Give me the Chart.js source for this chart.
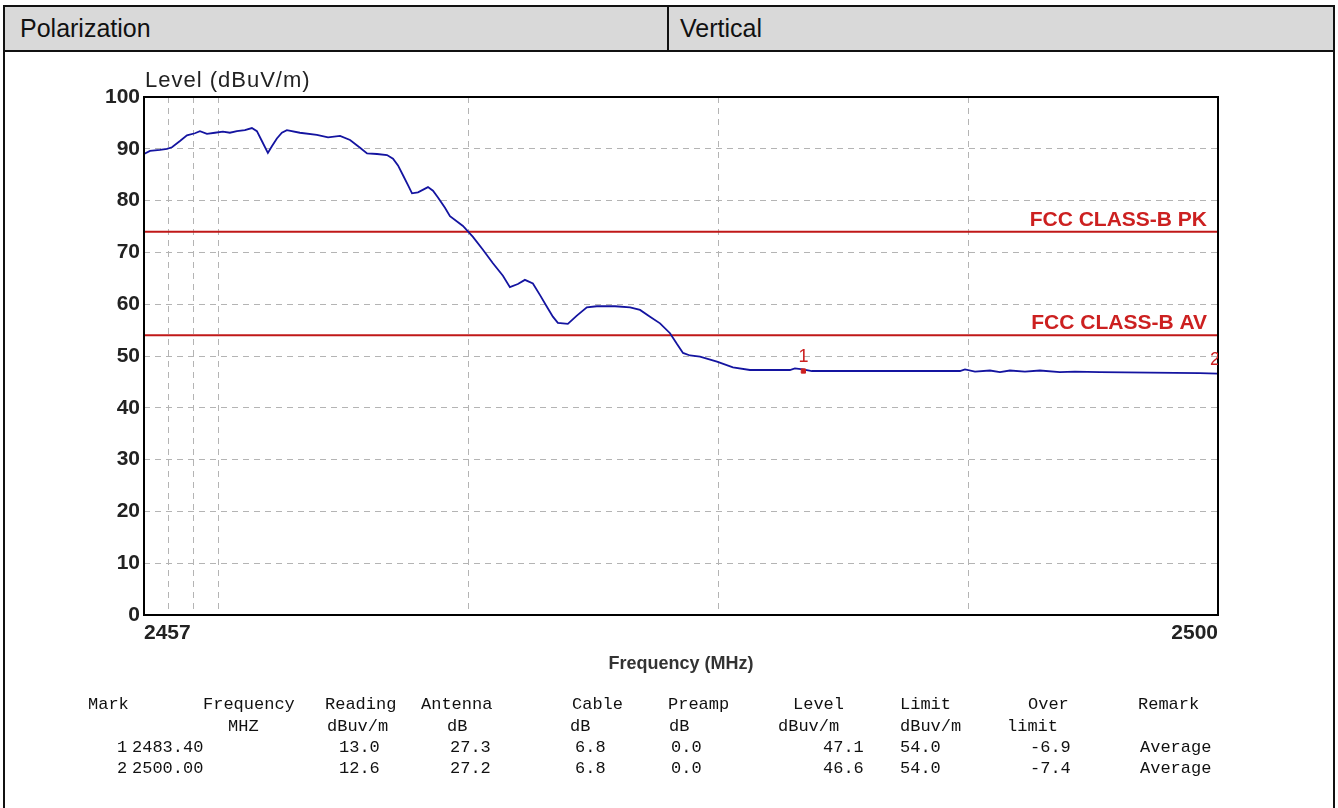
<!DOCTYPE html>
<html lang="en">
<head>
  <meta charset="UTF-8">
  <title>Radiated emission - Vertical</title>
  <script src="https://cdn.jsdelivr.net/npm/chart.js@4.4.0/dist/chart.umd.min.js"></script>
  <style>
    html, body { margin: 0; padding: 0; width: 1338px; height: 808px; background: #fff; overflow: hidden; }
    .line { position: absolute; background: #111; }
    #headRow { position: absolute; left: 3px; top: 5px; width: 1332px; height: 45px; background: #d9d9d9; }
    .headText { position: absolute; top: 14px; font: 25px "Liberation Sans", Arial, sans-serif; color: #111; }
    #chart { position: absolute; left: 0; top: 0; }
    .cell { position: absolute; font: 17px "Liberation Mono", "Courier New", monospace; color: #111; white-space: pre; line-height: 18px; }
  </style>
</head>
<body>
  <div id="headRow"></div>
  <div class="line" style="left:3px;top:5px;width:1332px;height:2px"></div>
  <div class="line" style="left:3px;top:50px;width:1332px;height:2px"></div>
  <div class="line" style="left:3px;top:5px;width:2px;height:810px"></div>
  <div class="line" style="left:1333px;top:5px;width:2px;height:810px"></div>
  <div class="line" style="left:667px;top:5px;width:2px;height:46px"></div>
  <div class="headText" style="left:20px">Polarization</div>
  <div class="headText" style="left:680px">Vertical</div>
  <canvas id="chart" width="1338" height="808"></canvas>
  <div id="table"></div>

  <script>
// measured trace (MHz / dBuV/m)
var freqMHz = [2457.00, 2457.24, 2457.64, 2457.92, 2458.12, 2458.44, 2458.72, 2459.04, 2459.24, 2459.52,
  2459.84, 2460.16, 2460.44, 2460.72, 2461.04, 2461.32, 2461.52, 2461.72, 2461.96, 2462.12,
  2462.32, 2462.52, 2462.72, 2463.24, 2463.92, 2464.37, 2464.85, 2465.25, 2465.65, 2465.93,
  2466.33, 2466.73, 2466.97, 2467.17, 2467.37, 2467.57, 2467.73, 2467.97, 2468.37, 2468.57,
  2468.77, 2469.05, 2469.25, 2469.77, 2470.17, 2470.57, 2470.97, 2471.37, 2471.65, 2471.97,
  2472.25, 2472.57, 2472.85, 2473.13, 2473.37, 2473.57, 2473.97, 2474.33, 2474.73, 2475.13,
  2475.86, 2476.46, 2476.86, 2477.26, 2477.66, 2478.06, 2478.34, 2478.58, 2478.86, 2479.26,
  2479.94, 2480.58, 2481.26, 2482.86, 2483.06, 2483.38, 2483.74, 2487.26, 2489.67, 2489.87,
  2490.27, 2490.87, 2491.27, 2491.67, 2492.27, 2492.87, 2493.67, 2494.27, 2495.27, 2497.27,
  2499.27, 2500.00];
var levelDbuv = [89.0, 89.6, 89.8, 90.0, 90.3, 91.5, 92.6, 93.0, 93.4, 92.9,
  93.1, 93.3, 93.1, 93.4, 93.6, 94.0, 93.4, 91.5, 89.2, 90.5,
  92.0, 93.1, 93.6, 93.1, 92.7, 92.2, 92.5, 91.7, 90.2, 89.1,
  89.0, 88.8, 88.1, 86.8, 84.9, 83.0, 81.4, 81.6, 82.6, 81.9,
  80.6, 78.6, 77.0, 75.1, 73.0, 70.5, 67.9, 65.5, 63.3, 63.9,
  64.7, 64.0, 61.8, 59.5, 57.6, 56.4, 56.2, 57.8, 59.4, 59.6,
  59.6, 59.4, 58.9, 57.6, 56.3, 54.4, 52.3, 50.6, 50.1, 49.9,
  48.9, 47.8, 47.3, 47.3, 47.6, 47.4, 47.1, 47.1, 47.1, 47.4,
  47.0, 47.2, 46.9, 47.2, 47.0, 47.2, 46.9, 47.0, 46.9, 46.8,
  46.7, 46.6];

// limits
var limitNames = ["FCC CLASS-B PK", "FCC CLASS-B AV"];
var limitValues = [74, 54];

// axis
var xMin = 2457, xMax = 2500;
var xGridValues = [2457, 2458, 2459, 2460, 2470, 2480, 2490, 2500];
var xTickLabels = ["2457", "2500"];
var yMin = 0, yMax = 100, yStep = 10;

// marker table
var tableHead = ["Mark", "Frequency", "Reading", "Antenna", "Cable", "Preamp", "Level", "Limit", "Over", "Remark"];
var tableUnits = ["", "MHZ", "dBuv/m", "dB", "dB", "dB", "dBuv/m", "dBuv/m", "limit", ""];
var markNo = ["1", "2"];
var markFreq = ["2483.40", "2500.00"];
var markReading = ["13.0", "12.6"];
var markAntenna = ["27.3", "27.2"];
var markCable = ["6.8", "6.8"];
var markPreamp = ["0.0", "0.0"];
var markLevel = ["47.1", "46.6"];
var markLimit = ["54.0", "54.0"];
var markOver = ["-6.9", "-7.4"];
var markRemark = ["Average", "Average"];

var RED = "#cc2020";

/* Frame, labels and marker numbers */
var extrasPlugin = {
  id: "extras",
  afterDraw: function(chart) {
    var ctx = chart.ctx;
    var a = chart.chartArea;
    var xs = chart.scales.x, ys = chart.scales.y;
    ctx.save();
    // plot border
    ctx.strokeStyle = "#000";
    ctx.lineWidth = 2;
    ctx.strokeRect(a.left, a.top, a.right - a.left, a.bottom - a.top);
    // y title
    ctx.fillStyle = "#222";
    ctx.font = "22px 'Liberation Sans', Arial, sans-serif";
    ctx.letterSpacing = "1px";
    ctx.textAlign = "left";
    ctx.textBaseline = "middle";
    ctx.fillText("Level (dBuV/m)", a.left + 1, a.top - 16);
    ctx.letterSpacing = "0px";
    // limit names
    ctx.fillStyle = RED;
    ctx.font = "bold 21px 'Liberation Sans', Arial, sans-serif";
    ctx.textAlign = "right";
    ctx.textBaseline = "alphabetic";
    for (var i = 0; i < limitNames.length; i++) {
      ctx.fillText(limitNames[i], a.right - 11, ys.getPixelForValue(limitValues[i]) - 6);
    }
    // marker numbers
    ctx.beginPath();
    ctx.rect(a.left, a.top, a.right - a.left, a.bottom - a.top);
    ctx.clip();
    ctx.font = "18px 'Liberation Sans', Arial, sans-serif";
    ctx.textAlign = "center";
    for (var j = 0; j < markNo.length; j++) {
      var px = xs.getPixelForValue(parseFloat(markFreq[j]));
      if (j == markNo.length - 1) px -= 3;
      ctx.fillText(markNo[j], px, ys.getPixelForValue(parseFloat(markLevel[j])) - 9);
    }
    ctx.restore();
  }
};

function buildDatasets() {
  var trace = [];
  for (var i = 0; i < freqMHz.length; i++) {
    trace.push({ x: freqMHz[i], y: levelDbuv[i] });
  }
  var sets = [{
    label: "Trace",
    data: trace,
    borderColor: "#1414a0",
    borderWidth: 1.8,
    pointRadius: 0,
    order: 2
  }];
  for (var k = 0; k < limitValues.length; k++) {
    sets.push({
      label: limitNames[k],
      data: [{ x: xMin, y: limitValues[k] }, { x: xMax, y: limitValues[k] }],
      borderColor: "#c01818",
      borderWidth: 2,
      pointRadius: 0,
      order: 3
    });
  }
  var marks = [];
  for (var m = 0; m < markNo.length; m++) {
    marks.push({ x: parseFloat(markFreq[m]), y: parseFloat(markLevel[m]) });
  }
  sets.push({
    label: "Markers",
    data: marks,
    showLine: false,
    pointStyle: ["rect", "line"],
    rotation: [0, 90],
    pointRadius: [3, 6],
    pointBorderWidth: [1, 2],
    backgroundColor: RED,
    borderColor: RED,
    order: 1
  });
  return sets;
}

var tickFont = { family: "'Liberation Sans', Arial, sans-serif", size: 21, weight: "bold" };

var chart = new Chart(document.getElementById("chart"), {
  type: "line",
  data: { datasets: buildDatasets() },
  options: {
    responsive: false,
    animation: false,
    layout: { padding: { left: 20, top: 97, right: 120, bottom: 133 } },
    plugins: { legend: { display: false }, tooltip: { enabled: false } },
    scales: {
      x: {
        type: "linear",
        min: xMin,
        max: xMax,
        afterBuildTicks: function(scale) {
          scale.ticks = xGridValues.map(function(v) { return { value: v }; });
        },
        afterFit: function(scale) { scale.height = 60; },
        ticks: {
          autoSkip: false,
          maxRotation: 0,
          align: "inner",
          padding: 6,
          color: "#222",
          font: tickFont,
          callback: function(v) {
            var s = String(v);
            return xTickLabels.indexOf(s) >= 0 ? s : "";
          }
        },
        grid: { color: "#b4b4b4", lineWidth: 1, drawTicks: false },
        border: { display: false, dash: [6, 5] },
        title: {
          display: true,
          text: "Frequency (MHz)",
          color: "#333",
          font: { family: "'Liberation Sans', Arial, sans-serif", size: 18, weight: "bold" },
          padding: 0
        }
      },
      y: {
        min: yMin,
        max: yMax,
        afterFit: function(scale) { scale.width = 124; },
        ticks: { stepSize: yStep, padding: 4, color: "#222", font: tickFont },
        grid: { color: "#b4b4b4", lineWidth: 1, drawTicks: false },
        border: { display: false, dash: [6, 5] }
      }
    }
  },
  plugins: [extrasPlugin]
});

/* Marker table under the chart */
function buildTable() {
  var rowsY = [696, 718, 739, 760];
  var headX = [88, 203, 325, 421, 572, 668, 793, 900, 1028, 1138];
  var unitX = [0, 228, 327, 447, 570, 669, 778, 900, 1007, 0];
  var valX = [117, 132, 339, 450, 575, 671, 823, 900, 1030, 1140];
  var cols = [markNo, markFreq, markReading, markAntenna, markCable, markPreamp, markLevel, markLimit, markOver, markRemark];
  var html = "";
  function cell(x, y, t) {
    return '<div class="cell" style="left:' + x + 'px;top:' + y + 'px">' + t + "</div>";
  }
  for (var c = 0; c < tableHead.length; c++) {
    html += cell(headX[c], rowsY[0], tableHead[c]);
    if (tableUnits[c] != "") html += cell(unitX[c], rowsY[1], tableUnits[c]);
    for (var r = 0; r < markNo.length; r++) {
      html += cell(valX[c], rowsY[2 + r], cols[c][r]);
    }
  }
  document.getElementById("table").innerHTML = html;
}
buildTable();
  </script>
</body>
</html>
